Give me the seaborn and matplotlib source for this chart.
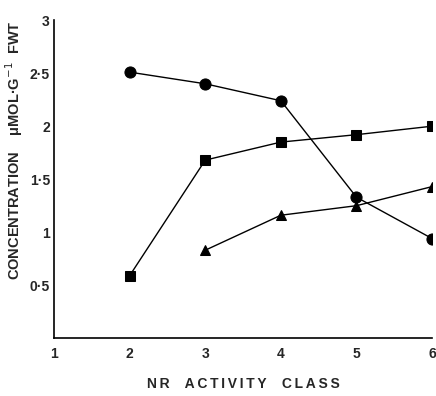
import matplotlib
matplotlib.use("Agg")
import matplotlib.pyplot as plt
import seaborn as sns
import pandas as pd

nr_class = [2, 3, 4, 5, 6]
circles = [2.51, 2.40, 2.24, 1.33, 0.94]
squares = [0.59, 1.68, 1.85, 1.92, 2.00]
tri_class = [3, 4, 5, 6]
triangles = [0.83, 1.16, 1.25, 1.43]
yticks = [0.5, 1, 1.5, 2, 2.5, 3]
yticklabels = ["0·5", "1", "1·5", "2", "2·5", "3"]
xticks = [1, 2, 3, 4, 5, 6]

df = pd.concat([
    pd.DataFrame({"cls": nr_class, "conc": circles, "s": "circle"}),
    pd.DataFrame({"cls": nr_class, "conc": squares, "s": "square"}),
    pd.DataFrame({"cls": tri_class, "conc": triangles, "s": "tri"}),
])

sns.set_style("white")
plt.rcParams["font.family"] = ["Liberation Sans", "DejaVu Sans"]

fig = plt.figure(figsize=(4.36, 3.96), dpi=100)
ax = fig.add_axes([0.124, 0.146, 0.867, 0.803])

for name, mk, ms in [("circle", "o", 8), ("square", "s", 6.5), ("tri", "^", 6.5)]:
    sub = df[df["s"] == name]
    sns.lineplot(data=sub, x="cls", y="conc", ax=ax, color="black", lw=1.0,
                 marker=mk, markersize=ms, markeredgecolor="black", legend=False)

ax.set_xlim(1, 6)
ax.set_ylim(0, 3)
ax.set_xticks(xticks)
ax.set_xticklabels([str(v) for v in xticks], fontsize=10, fontweight="bold")
ax.set_yticks(yticks)
ax.set_yticklabels(yticklabels, fontsize=10, fontweight="bold")
ax.tick_params(axis="x", direction="in", length=4, width=1, color="black", pad=6)
ax.tick_params(axis="y", direction="in", length=4, width=1, color="black", pad=3)
for sp in ["top", "right"]:
    ax.spines[sp].set_visible(False)
for sp in ["left", "bottom"]:
    ax.spines[sp].set_color("black")
    ax.spines[sp].set_linewidth(1.2)

def spaced(s):
    return "\u2009".join(s)

ax.set_xlabel(spaced("NR") + "    " + spaced("ACTIVITY") + "    " + spaced("CLASS"),
              fontsize=10, fontweight="bold", labelpad=12)
ax.set_ylabel("CONCENTRATION    μMOL·G$^{-1}$  FWT", fontsize=10.5, fontweight="bold")
ax.yaxis.set_label_coords(-0.078, 0.59)

fig.savefig("out.png", dpi=100)
